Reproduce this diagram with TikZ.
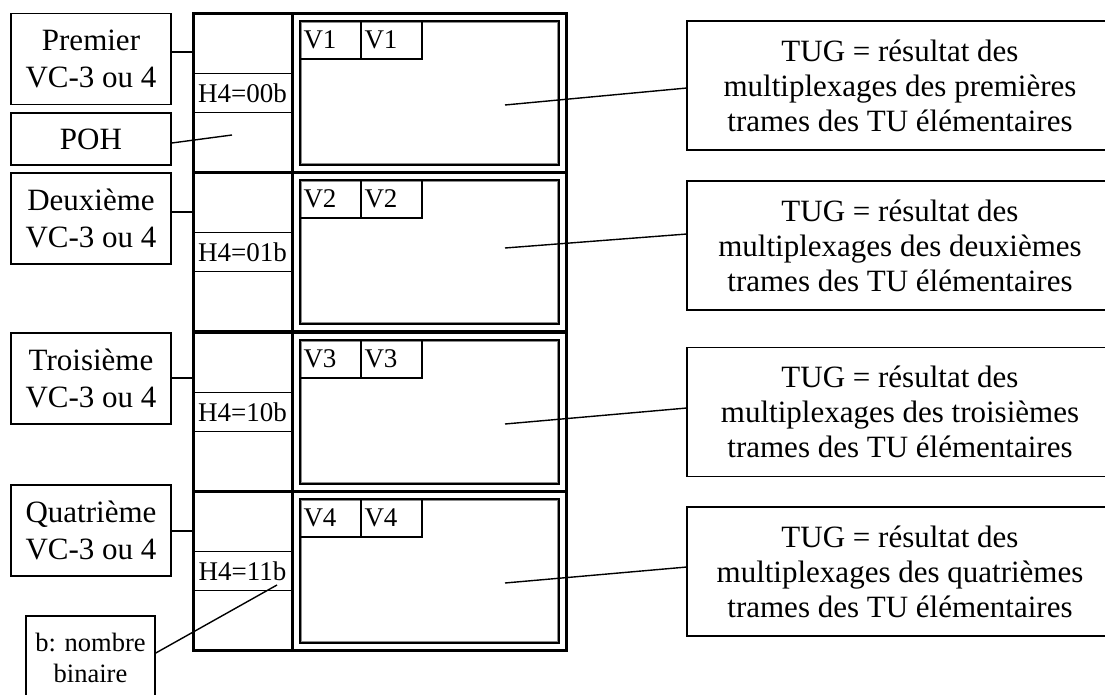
\documentclass[tikz,border=0pt]{standalone}
\usepackage{fontspec}
\setmainfont{Liberation Serif}
\tikzset{
  vcbox/.style={draw, line width=.8pt, minimum width=80pt, align=center,
    font=\fontsize{15.5}{18.5}\selectfont},
  tugbox/.style={draw, line width=.8pt, minimum width=213pt, minimum height=64.5pt,
    align=center, font=\fontsize{15.5}{17.5}\selectfont},
  cellbox/.style={draw, line width=1.5pt, minimum height=79.5pt, inner sep=0pt},
  hfour/.style={draw, line width=.5pt, minimum width=49.5pt, minimum height=19.5pt,
    inner sep=0pt, font=\fontsize{13.5}{15}\selectfont},
  tubox/.style={draw, line width=.7pt, minimum width=129.5pt, minimum height=72pt, inner sep=0pt},
  tuinner/.style={draw=black!45, line width=.4pt, minimum width=127.8pt, minimum height=70.3pt, inner sep=0pt},
  vbox/.style={draw, line width=.6pt, minimum width=30.5pt, minimum height=19pt,
    text width=27pt, inner xsep=1.5pt, align=left, font=\fontsize{13.5}{15}\selectfont},
  link/.style={line width=.7pt}
}
\begin{document}
\begin{tikzpicture}[x=.5pt, y=-.5pt]
\path[use as bounding box, fill=white] (0,0) rectangle (1105,695);
\foreach \i/\t/\w/\ly/\ry/\hb/\ord/\ty/\sy/\ey in {
  1/14/Premier/59/52/00b/premières/85.5/105/88,
  2/173/Deuxième/218.5/212/01b/deuxièmes/245.5/248/234,
  3/333/Troisième/378.5/378/10b/troisièmes/412/424/408,
  4/492/Quatrième/530.5/531/11b/quatrièmes/571.5/583/567}{
  \node[cellbox, minimum width=49.5pt] (hc\i) at (242.5,\t+79.5) {};
  \node[cellbox, minimum width=137pt] (pc\i) at (429,\t+79.5) {};
  \node[hfour] (h\i) at (242.5,\t+79.5) {H4=\hb};
  \node[tubox] (tu\i) at (429.5,\t+79) {};
  \node[tuinner] (ti\i) at (tu\i) {};
  \node[vbox] (va\i) at (330.5,\t+26) {V\i};
  \node[vbox] (vb\i) at (391.5,\t+26) {V\i};
  \node[vcbox, minimum height=45.5pt] (vc\i) at (91,\ly) {\w\\VC-3 ou 4};
  \coordinate (lc\i) at (193,\ry);
  \draw[link] (vc\i.east |- lc\i) -- (lc\i);
  \node[tugbox] (tug\i) at (900,\ty) {TUG = résultat des\\multiplexages des \ord\\trames des TU élémentaires};
  \coordinate (s\i) at (505,\sy);
  \coordinate (e\i) at (687,\ey);
  \draw[link] (s\i) -- (e\i);
}
\node[vcbox, minimum height=26pt] (poh) at (91,139) {POH};
\coordinate (pohp) at (232,135);
\draw[link] ([yshift=-2pt]poh.east) -- (pohp);
\node[draw, line width=.8pt, minimum width=64.5pt, minimum height=42pt, align=center,
  font=\fontsize{13.25}{15.5}\selectfont] (bnote) at (90.5,658) {b: nombre\\binaire};
\coordinate (bp) at (277,585);
\draw[link] ([yshift=2.5pt]bnote.east) -- (bp);
\end{tikzpicture}
\end{document}
